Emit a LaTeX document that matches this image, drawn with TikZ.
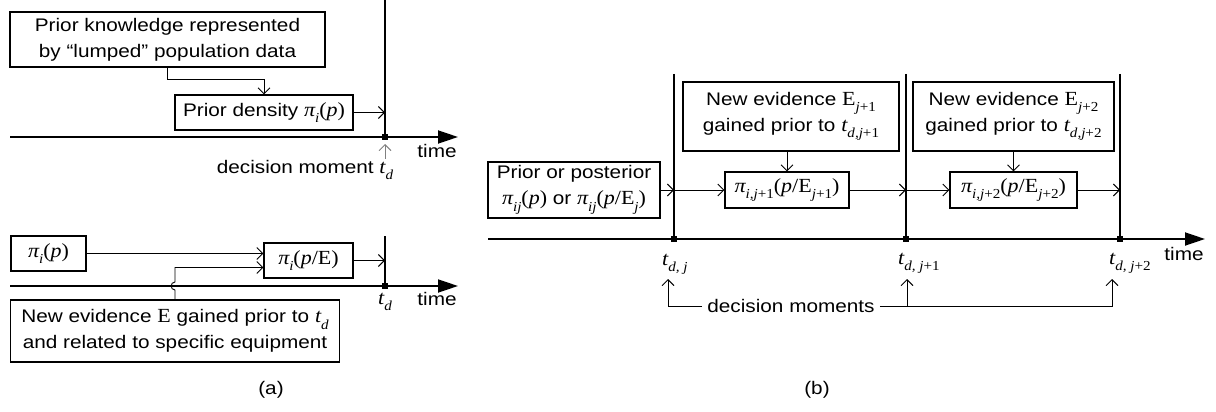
\documentclass[tikz,border=0pt]{standalone}
\usepackage{fontspec}
\setmainfont{Liberation Sans}[FakeStretch=1.14]
\newfontfamily\tms{Liberation Serif}[FakeStretch=1.1, Scale=1.1]
\usepackage{tikz}
\usetikzlibrary{arrows.meta, positioning}
\newcommand{\mainsize}{\fontsize{18.2}{26}\selectfont}
\newcommand{\mvar}[1]{{\tms\itshape #1}} % serif italic symbols
\newcommand{\mup}[1]{{\upshape #1}} % upright bits inside symbols
\newcommand{\msub}[1]{\raisebox{-0.32em}{\fontsize{12.5}{12.5}\selectfont #1}} % lowered index
\tikzset{
box/.style={draw, line width=1.2pt, inner sep=2pt, align=center}, % framed text boxes
conn/.style={line width=0.9pt, -{Straight Barb[length=6pt,width=12pt]}}, % thin connector arrows
timeline/.style={line width=1.8pt, -{Triangle[length=20pt,width=13pt]}}, % the time axis
moment/.style={line width=1.4pt}, % vertical lines at the decision moments
tick/.style={fill, inner sep=0pt, minimum size=6pt}, % little square on the axis
lbl/.style={inner sep=1pt}, % plain labels
}

\begin{document}
\begin{tikzpicture}[
  x=1pt, y=-1pt,
  every node/.style={font=\mainsize}
]
  \useasboundingbox (0,0) rectangle (1216,412);

  % (a) upper part
  \node[box, minimum width=315pt, minimum height=55pt] (knowledge) at (167.5,39.5) {Prior knowledge represented\\by “lumped” population data};
  \node[box, minimum width=178pt, minimum height=35pt] (priorA) at (264,112.5) {Prior density \mvar{π\msub{i}\mup{(}p\mup{)}}};
  \coordinate (topA) at (385,0);
  \coordinate (tdA) at (385,137);
  \coordinate (startA) at (10,137);
  \coordinate (endA) at (458,137);
  \draw[moment] (topA) -- (tdA);
  \draw[timeline] (startA) -- (endA);
  \draw[conn] (knowledge.south) -- ++(0,12) -| (priorA.north);
  \draw[conn] (priorA.east) -- (priorA.east -| tdA);
  \node[tick] at (tdA) {};
  \node[lbl] (timeA) at (437,151) {time};
  \node[lbl] (momentA) at (305,170) {decision moment \mvar{t\msub{d}}};
  \draw[conn, gray] (tdA |- momentA.north) -- ([yshift=-7pt]tdA);

  % (a) lower part
  \node[box, minimum width=75pt, minimum height=35pt] (piA) at (48.5,253.5) {\mvar{π\msub{i}\mup{(}p\mup{)}}};
  \node[box, minimum width=89pt, minimum height=35pt] (postA) at (308.5,260.5) {\mvar{π\msub{i}\mup{(}p\mup{/E)}}};
  \node[box, minimum width=329pt, minimum height=62pt] (evidA) at (175,331) {New evidence \mvar{\mup{E}} gained prior to \mvar{t\msub{d}}\\and related to specific equipment};
  \coordinate (topB) at (385,236);
  \coordinate (tdB) at (385,286);
  \coordinate (startB) at (10,286);
  \coordinate (endB) at (458,286);
  \draw[moment] (topB) -- (tdB);
  \draw[timeline] (startB) -- (endB);
  \coordinate (jumpA) at (evidA.north |- tdB);
  \draw[conn] (piA.east) -- (piA.east -| postA.west);
  \draw[conn] (evidA.north) -- ([yshift=-4pt]jumpA) .. controls ([xshift=-5pt,yshift=-4pt]jumpA) and ([xshift=-5pt,yshift=4pt]jumpA) .. ([yshift=4pt]jumpA) |- ([yshift=-7pt]postA.west);
  \draw[conn] (postA.east) -- (postA.east -| tdB);
  \node[tick] at (tdB) {};
  \node[lbl, anchor=north] (tdlabA) at ([yshift=-6pt]tdB) {\mvar{t\msub{d}}};
  \node[lbl] (timeB) at (437,299) {time};
  \node[lbl] (capA) at (271,390) {(a)};

  % (b)
  \node[box, minimum width=172pt, minimum height=56pt] (priorB) at (574,190) {Prior or posterior\\\mvar{π\msub{ij}\mup{(}p\mup{)}} or \mvar{π\msub{ij}\mup{(}p\mup{/E}\msub{j}\mup{)}}};
  \node[box, minimum width=216pt, minimum height=69pt] (evid1) at (791,116.5) {New evidence \mvar{\mup{E}\msub{j\mup{+1}}}\\gained prior to \mvar{t\msub{d,j\mup{+1}}}};
  \node[box, minimum width=201pt, minimum height=69pt] (evid2) at (1013.5,116.5) {New evidence \mvar{\mup{E}\msub{j\mup{+2}}}\\gained prior to \mvar{t\msub{d,j\mup{+2}}}};
  \node[box, minimum width=124pt, minimum height=36pt] (post1) at (787,190) {\mvar{π\msub{i,j\mup{+1}}\mup{(}p\mup{/E}\msub{j\mup{+1}}\mup{)}}};
  \node[box, minimum width=127pt, minimum height=36pt] (post2) at (1013.5,190) {\mvar{π\msub{i,j\mup{+2}}\mup{(}p\mup{/E}\msub{j\mup{+2}}\mup{)}}};
  \coordinate (top0) at (674,74);
  \coordinate (top1) at (906,74);
  \coordinate (top2) at (1120,74);
  \coordinate (td0) at (674,239);
  \coordinate (td1) at (906,239);
  \coordinate (td2) at (1120,239);
  \coordinate (startC) at (488,239);
  \coordinate (endC) at (1205,239);
  \draw[moment] (top0) -- (td0);
  \draw[moment] (top1) -- (td1);
  \draw[moment] (top2) -- (td2);
  \draw[timeline] (startC) -- (endC);
  \draw[conn] (priorB.east) -- (priorB.east -| td0);
  \draw[conn] (priorB.east -| td0) -- (post1.west);
  \draw[conn] (post1.east) -- (post1.east -| td1);
  \draw[conn] (post1.east -| td1) -- (post2.west);
  \draw[conn] (post2.east) -- (post2.east -| td2);
  \draw[conn] (evid1.south -| post1.north) -- (post1.north);
  \draw[conn] (evid2.south) -- (post2.north);
  \node[tick] at (td0) {};
  \node[tick] at (td1) {};
  \node[tick] at (td2) {};
  \node[lbl, anchor=base west] (lab0) at (661,265) {\mvar{t\msub{d, j}}};
  \node[lbl, anchor=base west] (lab1) at (897,264) {\mvar{t\msub{d, j\mup{+1}}}};
  \node[lbl, anchor=base west] (lab2) at (1108,264) {\mvar{t\msub{d, j\mup{+2}}}};
  \node[lbl] (timeC) at (1184,254) {time};
  \node[lbl, inner sep=5pt] (moments) at (791,306) {decision moments};
  \coordinate (dm0) at (668,279);
  \coordinate (dm1) at (907,279);
  \coordinate (dm2) at (1112,279);
  \draw[conn] (moments.west) -| (dm0);
  \draw[conn] (moments.east) -| (dm2);
  \draw[conn] (moments.east -| dm1) -- (dm1);
  \node[lbl] (capB) at (817,390) {(b)};
\end{tikzpicture}
\end{document}
